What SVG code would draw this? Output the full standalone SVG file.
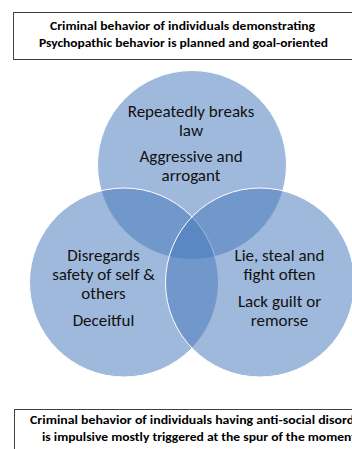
<svg xmlns="http://www.w3.org/2000/svg" width="352" height="449" viewBox="0 0 352 449">
  <style>
    .box { fill: #ffffff; stroke: #3f3f3f; stroke-width: 1; }
    .title { font-family: Carlito, Calibri, "Liberation Sans", sans-serif; font-weight: bold; font-size: 11.5px; fill: #000000; }
    .circle { fill: #4779bb; fill-opacity: 0.52; stroke: #ffffff; stroke-width: 1; }
    .lbl { font-family: Carlito, Calibri, "Liberation Sans", sans-serif; font-size: 17px; fill: #111111; text-anchor: middle; }
  </style>
  <rect width="352" height="449" fill="#ffffff"/>
  <g id="top-box">
    <rect class="box" x="13.5" y="12.5" width="340" height="47"/>
    <text class="title" x="182.5" y="29.5" text-anchor="middle" textLength="265" lengthAdjust="spacingAndGlyphs">Criminal behavior of individuals demonstrating</text>
    <text class="title" x="183.5" y="47" text-anchor="middle" textLength="289" lengthAdjust="spacingAndGlyphs">Psychopathic behavior is planned and goal-oriented</text>
  </g>
  <g id="bottom-box">
    <rect class="box" x="14.5" y="409.5" width="380" height="60"/>
    <text class="title" x="30" y="424" textLength="336" lengthAdjust="spacingAndGlyphs">Criminal behavior of individuals having anti-social disorder</text>
    <text class="title" x="42" y="441" textLength="314" lengthAdjust="spacingAndGlyphs">is impulsive mostly triggered at the spur of the moment</text>
  </g>
  <g id="circles">
    <circle id="circle-top" class="circle" cx="192" cy="165" r="94.5"/>
    <circle id="circle-left" class="circle" cx="124" cy="282.5" r="94.5"/>
    <circle id="circle-right" class="circle" cx="260" cy="282.5" r="94.5"/>
  </g>
  <g id="label-top">
    <text class="lbl" x="191" y="117">Repeatedly breaks</text>
    <text class="lbl" x="191" y="136">law</text>
    <text class="lbl" x="191" y="162">Aggressive and</text>
    <text class="lbl" x="191" y="181">arrogant</text>
  </g>
  <g id="label-left">
    <text class="lbl" x="103.5" y="261">Disregards</text>
    <text class="lbl" x="103.5" y="280">safety of self &amp;</text>
    <text class="lbl" x="103.5" y="299">others</text>
    <text class="lbl" x="103.5" y="326">Deceitful</text>
  </g>
  <g id="label-right">
    <text class="lbl" x="279.5" y="261">Lie, steal and</text>
    <text class="lbl" x="279.5" y="280">fight often</text>
    <text class="lbl" x="279.5" y="307">Lack guilt or</text>
    <text class="lbl" x="279.5" y="326">remorse</text>
  </g>
</svg>
